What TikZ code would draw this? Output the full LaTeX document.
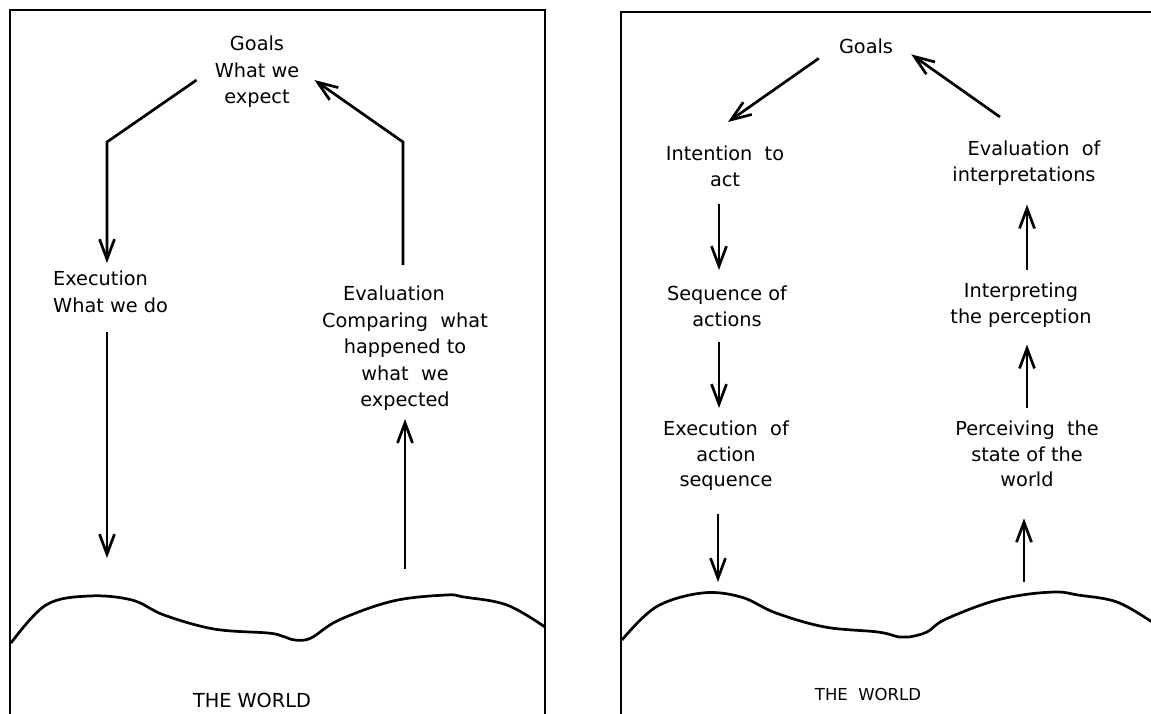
\documentclass[tikz,border=0pt]{standalone}
\usepackage{fontspec}
\setmainfont{DejaVu Sans}
\usetikzlibrary{calc, arrows.meta}
\tikzstyle{lbl}=[align=center, inner sep=0pt, anchor=north, font=\fontsize{19.3}{26.5}\selectfont]
\tikzstyle{lblr}=[lbl, font=\fontsize{19.3}{25.5}\selectfont]
\tikzstyle{arr}=[->, line width=2.7pt]
\tikzstyle{frame}=[line width=2.8pt]
\tikzstyle{ground}=[line width=2.7pt]

\begin{document}
\begin{tikzpicture}[x=1pt, y=-1pt, >={Straight Barb[length=20pt, width=15pt]}]
  \useasboundingbox (0,0) rectangle (1151,713);
  % left: the gulfs
  \draw[frame] (10,720) -- (10,10) -- (545,10) -- (545,720);
  \node [lbl] (goalsL) at (257,36) {Goals\\What we\\expect};
  \node [lbl, anchor=north west, align=left] (execL) at (53,271) {Execution\\What we do};
  \node [lbl] (evalL) at (405,286) {Evaluation\hspace*{22pt}\mbox{}\\Comparing~ what\\happened to\\what~ we\\expected};
  \node [lbl] (worldL) at (252,693) {THE WORLD};
  \draw[ground] plot[smooth, tension=0.6] coordinates {(11,643) (46,605) (89,596) (132,600) (164,615) (214,629) (268,633) (282,636) (295,640) (311,638) (339,620) (393,601) (446,595) (464,597) (507,605) (545,627)};
  \coordinate (bendA) at (107,142);
  \coordinate (bendD) at (403,142);
  \coordinate (surfL1) at (107,558);
  \coordinate (surfL2) at (405,569);
  \draw[arr] ([xshift=-18pt,yshift=-8pt]goalsL.west) -- (bendA) -- ([yshift=8pt]bendA |- execL.north);
  \draw[arr] ([yshift=-19pt]bendA |- execL.south) -- (surfL1);
  \draw[arr] (surfL2) -- ([yshift=-8pt]evalL.south);
  \draw[arr] ([yshift=21pt]bendD |- evalL.north) -- (bendD) -- ([xshift=15pt,yshift=-8pt]goalsL.east);

  % right: the seven stages
  \draw[frame] (621,720) -- (621,12) -- (1160,12);
  \node [lblr] (goalsR) at (866,39) {Goals};
  \node [lblr] (intR) at (725,146) {Intention~ to\\act};
  \node [lblr] (seqR) at (727,286) {Sequence of\\actions};
  \node [lblr] (execR) at (726,421) {Execution~ of\\action\\sequence};
  \node [lblr] (evalR) at (1024,141) {\hspace*{20pt}Evaluation~ of\\interpretations};
  \node [lblr] (interR) at (1021,283) {Interpreting\\the perception};
  \node [lblr] (percR) at (1027,421) {Perceiving~ the\\state of the\\world};
  \node [lblr, font=\fontsize{16.5}{20}\selectfont] (worldR) at (868,688) {THE~ WORLD};
  \draw[ground] plot[smooth, tension=0.6] coordinates {(622,640) (656,607) (702,593) (741,597) (776,613) (825,627) (878,632) (899,637) (909,637) (927,632) (944,620) (987,603) (1022,595) (1057,592) (1078,595) (1117,602) (1152,622)};
  \coordinate (surfR1) at (718,582);
  \coordinate (surfR2) at (1024,582);
  \draw[arr] ([xshift=-20pt,yshift=-4pt]goalsR.south west) -- ([xshift=3pt,yshift=24pt]intR.north);
  \draw[arr] ([xshift=-6pt,yshift=-17pt]intR.south) -- ([xshift=-6pt,yshift=16pt]intR.south |- seqR.north);
  \draw[arr] ([xshift=-8pt,yshift=-15pt]seqR.south) -- ([xshift=-8pt,yshift=13pt]seqR.south |- execR.north);
  \draw[arr] ([yshift=-23pt]surfR1 |- execR.south) -- (surfR1);
  \draw[arr] (surfR2) -- ([yshift=-31pt]surfR2 |- percR.south);
  \draw[arr] ([yshift=13pt]percR.north) -- ([yshift=-17pt]percR.north |- interR.south);
  \draw[arr] ([xshift=6pt,yshift=13pt]interR.north) -- ([xshift=6pt,yshift=-19pt]interR.north |- evalR.south);
  \draw[arr] ([xshift=-24pt,yshift=24pt]evalR.north) -- ([xshift=18pt]goalsR.south east);
\end{tikzpicture}
\end{document}
